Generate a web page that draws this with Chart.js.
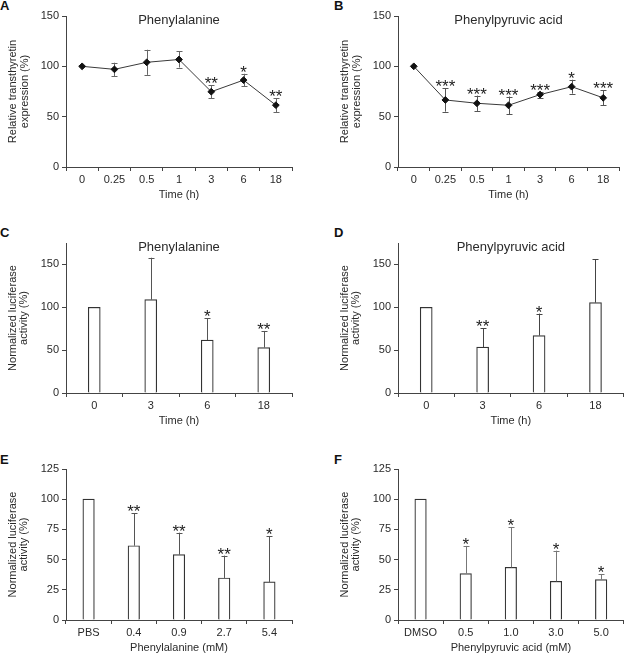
<!DOCTYPE html>
<html><head><meta charset="utf-8">
<script src="https://cdn.jsdelivr.net/npm/chart.js@4.4.1/dist/chart.umd.min.js"></script>
<style>
html,body{margin:0;padding:0;background:#fff;width:624px;height:654px;overflow:hidden;position:relative;font-family:"Liberation Sans",Arial,sans-serif;}
canvas{position:absolute;}
.lbl{position:absolute;font-weight:bold;font-size:13px;line-height:13px;color:#111;}
</style></head><body>
<div class="lbl" style="left:0px;top:-1px">A</div>
<div class="lbl" style="left:334px;top:-1px">B</div>
<div class="lbl" style="left:0px;top:226px">C</div>
<div class="lbl" style="left:334px;top:226px">D</div>
<div class="lbl" style="left:0px;top:453px">E</div>
<div class="lbl" style="left:334px;top:453px">F</div>
<script>
// ---------- data ----------
const timeLabelsAB = ['0','0.25','0.5','1','3','6','18'];
const valuesA = [100, 97, 104, 106.8, 74.8, 86.3, 61.4];
const errorsA = [0, 6.6, 12.5, 8.0, 6.3, 6.3, 6.8];
const starsA  = ['', '', '', '', '**', '*', '**'];

const valuesB = [100, 66.6, 63.3, 61.3, 71.9, 79.8, 68.7];
const errorsB = [0, 11.6, 7.6, 8.7, 2.9, 6.9, 7.5];
const starsB  = ['', '***', '***', '***', '***', '*', '***'];

const timeLabelsCD = ['0','3','6','18'];
const valuesC = [100, 108.9, 61.8, 53.0];
const errorsC = [0, 48.9, 25.4, 19.4];
const starsC  = ['', '', '*', '**'];

const valuesD = [100, 53.5, 67.0, 105.4];
const errorsD = [0, 22.1, 25.6, 50.4];
const starsD  = ['', '**', '*', ''];

const doseLabelsE = ['PBS','0.4','0.9','2.7','5.4'];
const valuesE = [100, 61.5, 54.1, 34.8, 31.5];
const errorsE = [0, 26.8, 18.2, 18.5, 37.8];
const starsE  = ['', '**', '**', '**', '*'];

const doseLabelsF = ['DMSO','0.5','1.0','3.0','5.0'];
const valuesF = [100, 38.4, 43.6, 32.0, 33.4];
const errorsF = [0, 22.9, 33.4, 25.4, 4.7];
const starsF  = ['', '*', '*', '*', '*'];

const yTicksTime = {max:150, step:50};
const yTicksLuc = {max:175, step:50};
const yTicksDose = {max:125, step:25};

// ---------- styling ----------
const FAM = '"Liberation Sans", Arial, sans-serif';
const TXT = '#2a2a2a';
const AX = '#444';

const errPlugin = {
  id: 'errbars',
  beforeDatasetsDraw(chart, args, o) { if (o.both) drawErr(chart, o); },
  afterDatasetsDraw(chart, args, o) {
    if (!o.both) drawErr(chart, o);
    drawStars(chart, o);
    // chart title inside plot area
    const ctx = chart.ctx, ca = chart.chartArea;
    ctx.save();
    ctx.fillStyle = TXT;
    ctx.font = '13px ' + FAM;
    ctx.textAlign = 'center';
    ctx.textBaseline = 'middle';
    ctx.fillText(o.title, (ca.left + ca.right) / 2, ca.top + o.titleDy);
    ctx.restore();
  }
};
function drawErr(chart, o) {
  const ctx = chart.ctx, meta = chart.getDatasetMeta(0), ys = chart.scales.y;
  const vals = chart.data.datasets[0].data;
  ctx.save();
  ctx.strokeStyle = o.color; ctx.lineWidth = 1;
  meta.data.forEach((el, i) => {
    const e = o.errors[i]; if (!e) return;
    const x = Math.round(el.x) + 0.5;
    const yt = ys.getPixelForValue(vals[i] + e);
    const yb = o.both ? ys.getPixelForValue(vals[i] - e) : ys.getPixelForValue(vals[i]);
    ctx.beginPath();
    ctx.moveTo(x, yb); ctx.lineTo(x, yt);
    ctx.moveTo(x - o.cap, Math.round(yt) + 0.5); ctx.lineTo(x + o.cap, Math.round(yt) + 0.5);
    if (o.both) { ctx.moveTo(x - o.cap, Math.round(yb) + 0.5); ctx.lineTo(x + o.cap, Math.round(yb) + 0.5); }
    ctx.stroke();
  });
  ctx.restore();
}
function drawStars(chart, o) {
  const ctx = chart.ctx, meta = chart.getDatasetMeta(0), ys = chart.scales.y;
  const vals = chart.data.datasets[0].data;
  ctx.save();
  ctx.fillStyle = '#222';
  ctx.font = '17px ' + FAM;
  ctx.textAlign = 'center';
  ctx.textBaseline = 'alphabetic';
  const m = ctx.measureText('*');
  meta.data.forEach((el, i) => {
    const s = o.stars[i]; if (!s) return;
    const yt = ys.getPixelForValue(vals[i] + (o.errors[i] || 0));
    ctx.fillText(s, el.x, yt - 2 - m.actualBoundingBoxDescent);
  });
  ctx.restore();
}

function makePanel(p) {
  const Hx = (p.titleY - p.B) + 6.6;
  const H = Math.round((p.B - p.y0) + Hx);
  const cv = document.createElement('canvas');
  cv.width = p.W; cv.height = H;
  cv.style.left = p.x0 + 'px'; cv.style.top = p.y0 + 'px';
  cv.style.width = p.W + 'px'; cv.style.height = H + 'px';
  document.body.appendChild(cv);
  const xAxisH = H - (p.B - p.y0);
  const isLine = p.type === 'line';
  const ds = isLine ? {
      data: p.values, borderColor: '#3a3a3a', borderWidth: 1, tension: 0,
      pointStyle: 'rectRot', pointRadius: 3.4, pointBackgroundColor: '#111', pointBorderColor: '#111', pointBorderWidth: 1
    } : {
      data: p.values, backgroundColor: '#fff', borderColor: '#333', borderWidth: 1.2,
      barThickness: p.barW
    };
  new Chart(cv, {
    type: p.type,
    data: { labels: p.labels, datasets: [ds] },
    options: {
      responsive: false, animation: false, devicePixelRatio: 1,
      layout: { padding: { left: 0, top: p.T - p.y0, right: p.x0 + p.W - p.R, bottom: 0 } },
      plugins: {
        legend: { display: false }, tooltip: { enabled: false },
        errbars: { errors: p.errors, stars: p.stars, both: isLine, cap: 3, color: p.errColor, title: p.title, titleDy: p.titleDy }
      },
      scales: {
        x: {
          type: 'category', offset: true,
          grid: { offset: true, drawOnChartArea: false, drawTicks: true, tickLength: 4, color: AX, lineWidth: 1 },
          border: { display: true, color: AX, width: 1 },
          ticks: { color: TXT, font: { size: 11, family: FAM }, padding: 2, maxRotation: 0, autoSkip: false },
          title: { display: true, text: p.xTitle, color: TXT, font: { size: 11, family: FAM, lineHeight: 1.2 }, padding: 0 },
          afterFit: s => { s.height = xAxisH; }
        },
        y: {
          min: 0, max: p.yMax,
          grid: { drawOnChartArea: false, drawTicks: true, tickLength: 4, color: AX, lineWidth: 1 },
          border: { display: true, color: AX, width: 1 },
          ticks: { stepSize: p.yStep, includeBounds: false, color: TXT, font: { size: 11, family: FAM }, padding: 3 },
          title: { display: true, text: p.yTitle, color: TXT, font: { size: 11, family: FAM, lineHeight: 1.05 }, padding: { top: p.yTitleX - 5.8, bottom: 0 } },
          afterFit: s => { s.width = p.L - p.x0; }
        }
      }
    },
    plugins: [errPlugin]
  });
}

const yTitleTTR = ['Relative transthyretin', 'expression (%)'];
const yTitleLuc = ['Normalized luciferase', 'activity (%)'];

makePanel({type:'line', x0:0, y0:0, W:312, L:66, T:16, R:292, B:167, titleY:195, yTitleX:13,
  labels: timeLabelsAB, values: valuesA, errors: errorsA, stars: starsA, yMax: yTicksTime.max, yStep: yTicksTime.step,
  title: 'Phenylalanine', titleDy: 4.5, xTitle: 'Time (h)', yTitle: yTitleTTR, errColor: '#666'});
makePanel({type:'line', x0:312, y0:0, W:312, L:398, T:16, R:623.7, B:167, titleY:195, yTitleX:33.3,
  labels: timeLabelsAB, values: valuesB, errors: errorsB, stars: starsB, yMax: yTicksTime.max, yStep: yTicksTime.step,
  title: 'Phenylpyruvic acid', titleDy: 4.5, xTitle: 'Time (h)', yTitle: yTitleTTR, errColor: '#555'});
makePanel({type:'bar', x0:0, y0:200, W:312, L:66, T:243, R:292, B:393, titleY:421, yTitleX:12.7, barW: 12,
  labels: timeLabelsCD, values: valuesC, errors: errorsC, stars: starsC, yMax: yTicksLuc.max, yStep: yTicksLuc.step,
  title: 'Phenylalanine', titleDy: 4, xTitle: 'Time (h)', yTitle: yTitleLuc, errColor: '#555'});
makePanel({type:'bar', x0:312, y0:200, W:312, L:398, T:243, R:623.7, B:393, titleY:421, yTitleX:32.7, barW: 12,
  labels: timeLabelsCD, values: valuesD, errors: errorsD, stars: starsD, yMax: yTicksLuc.max, yStep: yTicksLuc.step,
  title: 'Phenylpyruvic acid', titleDy: 4, xTitle: 'Time (h)', yTitle: yTitleLuc, errColor: '#444'});
makePanel({type:'bar', x0:0, y0:430, W:312, L:66, T:469, R:292, B:620, titleY:648, yTitleX:12.7, barW: 11.5,
  labels: doseLabelsE, values: valuesE, errors: errorsE, stars: starsE, yMax: yTicksDose.max, yStep: yTicksDose.step,
  title: '', titleDy: 0, xTitle: 'Phenylalanine (mM)', yTitle: yTitleLuc, errColor: '#555'});
makePanel({type:'bar', x0:312, y0:430, W:312, L:398, T:469, R:623.7, B:620, titleY:648, yTitleX:32.7, barW: 11.5,
  labels: doseLabelsF, values: valuesF, errors: errorsF, stars: starsF, yMax: yTicksDose.max, yStep: yTicksDose.step,
  title: '', titleDy: 0, xTitle: 'Phenylpyruvic acid (mM)', yTitle: yTitleLuc, errColor: '#777'});
</script>
</body></html>
